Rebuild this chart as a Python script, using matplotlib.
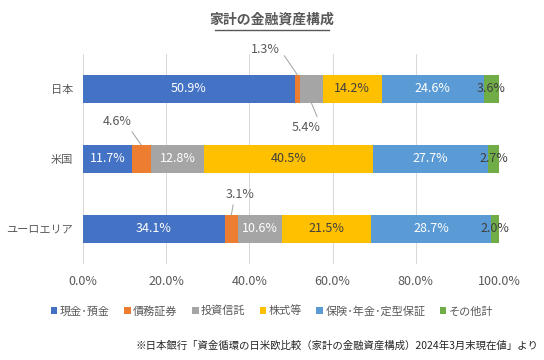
import matplotlib
matplotlib.use("Agg")
import matplotlib.pyplot as plt
from matplotlib.patches import Patch
import numpy as np

plt.rcParams['font.family'] = ['Noto Sans CJK JP', 'DejaVu Sans']

regions = ['日本', '米国', 'ユーロエリア']
series = ['現金･預金', '債務証券', '投資信託', '株式等', '保険･年金･定型保証', 'その他計']
japan = [50.9, 1.3, 5.4, 14.2, 24.6, 3.6]
usa = [11.7, 4.6, 12.8, 40.5, 27.7, 2.7]
euro = [34.1, 3.1, 10.6, 21.5, 28.7, 2.0]
xticks = [0, 20, 40, 60, 80, 100]
title = '家計の金融資産構成'
footnote = '※日本銀行「資金循環の日米欧比較（家計の金融資産構成）2024年3月末現在値」より'

colors = ['#4472C4', '#ED7D31', '#A5A5A5', '#FFC000', '#5B9BD5', '#70AD47']
label_colors = ['white', None, 'white', '#404040', 'white', '#404040']

data = np.array([japan, usa, euro])

fig = plt.figure(figsize=(5.44, 3.6), dpi=100)
ax = fig.add_axes([0.1526, 0.2667, 0.9173 - 0.1526, 0.85 - 0.2667])

ypos = np.arange(len(regions))
bar_h = 0.4
left = np.zeros(len(regions))
for j in range(len(series)):
    vals = data[:, j]
    ax.barh(ypos, vals, left=left, height=bar_h, color=colors[j], zorder=3)
    for i in range(len(regions)):
        v = vals[i]
        cx = left[i] + v / 2
        txt = f'{v:.1f}%'
        if v >= 8 or j == 5:
            ax.text(cx, ypos[i], txt, ha='center', va='center', fontsize=9,
                    color=label_colors[j], zorder=5)
    left += vals

# callout labels for small segments
def callout(i, j, dx, dy, below=False, relpos=(0.5, 0.5), shrinkA=6):
    start = data[i, :j].sum()
    cx = start + data[i, j] / 2
    yedge = ypos[i] + (bar_h / 2 if below else -bar_h / 2)
    ax.annotate(f'{data[i, j]:.1f}%', xy=(cx, yedge), xytext=(dx, dy),
                textcoords='offset points', ha='center', va='center',
                fontsize=9, color='#595959', zorder=6,
                arrowprops=dict(arrowstyle='-', color='#A6A6A6', lw=0.75,
                                shrinkA=shrinkA, shrinkB=0, relpos=relpos))

callout(0, 1, -23, 18.5, relpos=(1.0, 0.5), shrinkA=2)
callout(0, 2, -4, -17.5, below=True, relpos=(0.95, 1.0), shrinkA=1)
callout(1, 1, -17, 17, relpos=(0.9, 0.0), shrinkA=1)
callout(2, 1, 6, 15, relpos=(0.3, 0.0), shrinkA=1)

ax.set_xlim(0, 100)
ax.set_ylim(2.5, -0.5)
ax.set_xticks(xticks)
ax.set_xticklabels([f'{t:.1f}%' for t in xticks])
ax.set_yticks(ypos)
ax.set_yticklabels(regions)
ax.tick_params(axis='both', length=0, labelsize=9, colors='#595959')
ax.tick_params(axis='y', labelsize=8, pad=7)
ax.tick_params(axis='x', pad=8)
ax.grid(axis='x', color='#D9D9D9', lw=0.75, zorder=0)
for s in ax.spines.values():
    s.set_visible(False)

fig.text(0.5, 0.945, title, ha='center', va='center', fontsize=10,
         fontweight='bold', color='#595959')
# underline
fig.add_artist(plt.Line2D([0.395, 0.605], [0.918, 0.918], color='#595959', lw=1))

handles = [Patch(facecolor=c, edgecolor='none') for c in colors]
fig.legend(handles, series, loc='center', bbox_to_anchor=(0.5, 0.136), ncol=6,
           frameon=False, fontsize=8, handlelength=0.6, handleheight=0.6,
           handletextpad=0.2, columnspacing=1.3, labelcolor='#595959')

fig.text(0.99, 0.039, footnote, ha='right', va='center', fontsize=7.5, color='#262626')

fig.savefig('out.png', dpi=100)
